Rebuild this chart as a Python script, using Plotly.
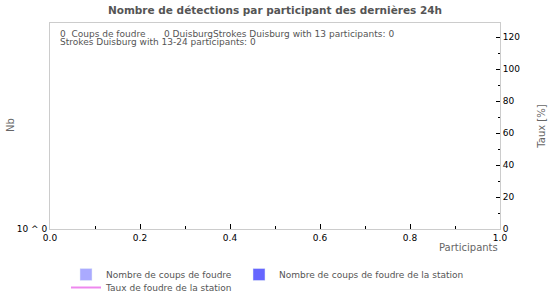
import plotly.graph_objects as go

# ---- data (empty chart: no detections in the last 24h) ----
participants = [None]
strokes_total = [None]
strokes_station = [None]
rate_station = [None]

summary_total = 0
summary_station = 0
summary_13 = 0
summary_13_24 = 0

title_text = "Nombre de détections par participant des dernières 24h"
series_names = ["Nombre de coups de foudre",
                "Nombre de coups de foudre de la station",
                "Taux de foudre de la station"]

FONT = "DejaVu Sans"
GREY = "#555555"

fig = go.Figure()
fig.add_trace(go.Bar(x=participants, y=strokes_total, name=series_names[0],
                     marker_color="#aaaaff", showlegend=True, legend="legend"))
fig.add_trace(go.Bar(x=participants, y=strokes_station, name=series_names[1],
                     marker_color="#6666ff", showlegend=True, legend="legend2"))
fig.add_trace(go.Scatter(x=participants, y=rate_station, name=series_names[2],
                         mode="lines", line=dict(color="#ee88ee", width=2),
                         yaxis="y2", showlegend=True, legend="legend3"))

legend_common = dict(orientation="h", xref="container", yref="container",
                     xanchor="left", yanchor="top", itemwidth=30,
                     font=dict(size=9, color=GREY), tracegroupgap=0,
                     bgcolor="rgba(0,0,0,0)")

fig.update_layout(
    width=550, height=300,
    margin=dict(l=50, r=50, t=23, b=71),
    paper_bgcolor="white", plot_bgcolor="white",
    font=dict(family=FONT, size=9, color="#000"),
    barmode="overlay",
    title=dict(text="<b>" + title_text + "</b>", x=0.5, xanchor="center",
               y=1 - 10 / 300, yanchor="middle",
               font=dict(family=FONT, size=10.5, color=GREY)),
    xaxis=dict(range=[0, 1], dtick=0.2, tickformat=".1f", automargin=False,
               ticks="inside", ticklen=5, tickcolor="#000",
               minor=dict(dtick=0.1, ticks="inside", ticklen=3, tickcolor="#000"),
               showline=True, linecolor="#cccccc", mirror=True,
               showgrid=False, zeroline=False,
               tickfont=dict(size=9, color="#000")),
    yaxis=dict(type="log", range=[0, 1], tickvals=[1], ticktext=["10 ^ 0"],
               automargin=False,
               showline=True, linecolor="#cccccc", mirror=True,
               showgrid=False, zeroline=False, ticks="",
               tickfont=dict(size=9, color="#000")),
    yaxis2=dict(overlaying="y", side="right", range=[0, 128.75], automargin=False,
                dtick=20, ticks="inside", ticklen=4, tickcolor="#000",
                minor=dict(dtick=10, ticks="inside", ticklen=2, tickcolor="#000"),
                showline=True, linecolor="#cccccc",
                showgrid=False, zeroline=False,
                title=dict(text="Taux [%]", font=dict(size=10, color="#666666"), standoff=18),
                tickfont=dict(size=9, color="#000")),
    legend=dict(legend_common, x=66 / 550, y=1 - 260 / 300),
    legend2=dict(legend_common, x=239 / 550, y=1 - 260 / 300),
    legend3=dict(legend_common, x=66 / 550, y=1 - 273 / 300),
    annotations=[
        dict(text="Nb", xref="paper", yref="paper", textangle=-90,
             x=-(50 - 10) / 450, y=(229 - 125) / 206, xanchor="center", yanchor="middle",
             showarrow=False, font=dict(size=10, color="#666666")),
        dict(text="Participants", xref="paper", yref="paper",
             x=1, y=-(240 - 229) / 206, xanchor="right", yanchor="top",
             showarrow=False, font=dict(size=10, color="#666666")),
        dict(text=f"{summary_total}  Coups de foudre", xref="paper", yref="paper",
             x=(58 - 50) / 450, y=(229 - 34) / 206, xanchor="left", yanchor="middle",
             showarrow=False, font=dict(size=9, color=GREY)),
        dict(text=f"{summary_station} DuisburgStrokes Duisburg with 13 participants: {summary_13}",
             xref="paper", yref="paper",
             x=(162 - 50) / 450, y=(229 - 34) / 206, xanchor="left", yanchor="middle",
             showarrow=False, font=dict(size=9, color=GREY)),
        dict(text=f"Strokes Duisburg with 13-24 participants: {summary_13_24}",
             xref="paper", yref="paper",
             x=(58 - 50) / 450, y=(229 - 42.5) / 206, xanchor="left", yanchor="middle",
             showarrow=False, font=dict(size=9, color=GREY)),
    ],
)

fig.write_html("out.html")
